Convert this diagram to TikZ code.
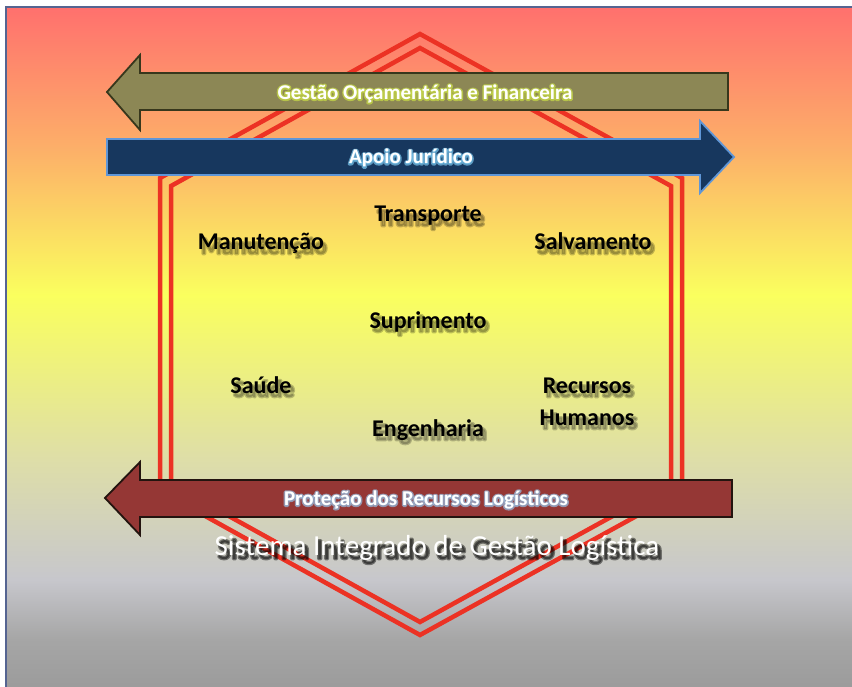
\documentclass[tikz,border=0pt]{standalone}
\usepackage{fontspec}
\setmainfont{Carlito}
\definecolor{hexred}{RGB}{236,50,36}
\definecolor{olivefill}{RGB}{140,135,85}
\definecolor{oliveline}{RGB}{55,55,28}
\definecolor{navyfill}{RGB}{23,55,94}
\definecolor{navyline}{RGB}{95,150,215}
\definecolor{brickfill}{RGB}{149,55,53}
\definecolor{brickline}{RGB}{35,20,15}
\definecolor{frameblue}{RGB}{85,100,145}
\definecolor{glowolive}{RGB}{200,220,70}
\definecolor{glownavy}{RGB}{120,195,235}
\definecolor{glowbrick}{RGB}{150,190,225}
\pgfdeclareverticalshading{sigbg}{100bp}{
  rgb(0bp)=(0.61,0.61,0.61);
  rgb(25bp)=(0.61,0.61,0.61);
  rgb(28.5bp)=(0.65,0.65,0.65);
  rgb(32.9bp)=(0.78,0.78,0.80);
  rgb(41.7bp)=(0.87,0.87,0.66);
  rgb(53.8bp)=(0.98,1,0.37);
  rgb(64.5bp)=(0.99,0.69,0.41);
  rgb(75bp)=(1,0.44,0.43);
  rgb(100bp)=(1,0.44,0.43)}
\tikzset{
  frameline/.style={frameblue, line width=1.5pt},
  hexline/.style={hexred, line width=4.5pt, line join=miter},
  bandarrow/.style={line width=1.8pt, line join=miter},
  bandtxt/.style={inner sep=0pt, anchor=base, text=white,
    font=\bfseries\fontsize{21}{25}\selectfont},
  areatxt/.style={inner sep=0pt, anchor=base, text=black, align=center,
    font=\bfseries\fontsize{24}{32}\selectfont},
  titletxt/.style={inner sep=0pt, anchor=base, text=white,
    font=\fontsize{29}{35}\selectfont},
}
% fill and stroke the glyphs, for halos and shadows
\newcommand\fattext[2]{\special{pdf:literal direct 2 Tr #1 w 1 j}#2\special{pdf:literal direct 0 Tr}}
% white text with a coloured halo
\newcommand\glowlabel[4]{%
  \node[bandtxt, text=#3, opacity=0.7] (#1g) at (#2) {\fattext{3}{#4}};
  \node[bandtxt] (#1) at (#2) {#4};}
% text with a soft drop shadow
\newcommand\shadowlabel[5]{%
  \node[#3, text=black, opacity=#4, xshift=3pt, yshift=-4pt] (#1s) at (#2) {\fattext{2.5}{#5}};
  \node[#3] (#1) at (#2) {#5};}

\begin{document}
\begin{tikzpicture}[x=1pt, y=-1pt]
  \useasboundingbox (0,0) rectangle (852,687);
  \shade[shading=sigbg] (6,7) rectangle (852,687);
  \draw[frameline] (6,687) -- (6,7) -- (852,7);

  \draw[hexline] (420,34) -- (682,178) -- (682,491) -- (420,635) -- (160,491) -- (160,178) -- cycle;
  \draw[hexline] (420,48) -- (671,186) -- (671,484) -- (420,622) -- (171,484) -- (171,186) -- cycle;

  \draw[bandarrow, fill=olivefill, draw=oliveline] (728,73) -- (140,73) -- (140,55) -- (107,92)
    -- (140,130) -- (140,110) -- (728,110) -- cycle;
  \draw[bandarrow, fill=navyfill, draw=navyline] (107,139) -- (700,139) -- (700,121) -- (734,157)
    -- (700,193) -- (700,175) -- (107,175) -- cycle;
  \draw[bandarrow, fill=brickfill, draw=brickline] (732,480) -- (140,480) -- (140,462) -- (105,498)
    -- (140,535) -- (140,517) -- (732,517) -- cycle;

  \glowlabel{orcam}{425,99.5}{glowolive}{Gestão Orçamentária e Financeira}
  \glowlabel{jurid}{411,164}{glownavy}{Apoio Jurídico}
  \glowlabel{protec}{426,505.5}{glowbrick}{Proteção dos Recursos Logísticos}

  \shadowlabel{transp}{428,222}{areatxt}{0.22}{Transporte}
  \shadowlabel{manut}{261,250}{areatxt}{0.22}{Manutenção}
  \shadowlabel{salv}{593,250}{areatxt}{0.22}{Salvamento}
  \shadowlabel{supri}{428,328}{areatxt}{0.22}{Suprimento}
  \shadowlabel{saude}{261,393}{areatxt}{0.22}{Saúde}
  \shadowlabel{rechum}{587,425}{areatxt}{0.22}{Recursos\\Humanos}
  \shadowlabel{engen}{428,436}{areatxt}{0.22}{Engenharia}

  \shadowlabel{sigelog}{437,555}{titletxt}{0.45}{Sistema Integrado de Gestão Logística}
\end{tikzpicture}
\end{document}
